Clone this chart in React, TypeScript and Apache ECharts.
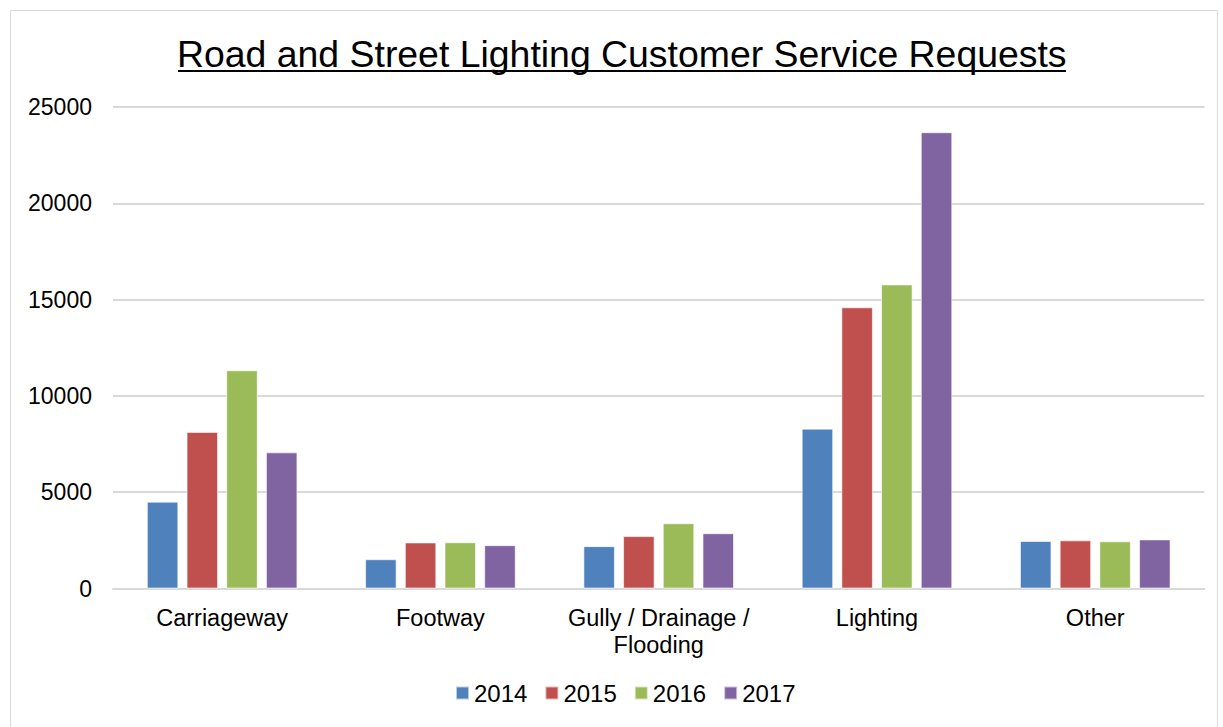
import React, { useEffect, useRef } from "react";
import * as echarts from "echarts";

const categories = ["Carriageway", "Footway", "Gully / Drainage / Flooding", "Lighting", "Other"];
const years = ["2014", "2015", "2016", "2017"];
const values2014 = [4510, 1520, 2200, 8300, 2470];
const values2015 = [8130, 2390, 2720, 14600, 2500];
const values2016 = [11330, 2400, 3390, 15790, 2450];
const values2017 = [7070, 2250, 2870, 23690, 2550];
const colors = ["#4f81bd", "#c0504d", "#9bbb59", "#8064a2"];
const yTicks = [0, 5000, 10000, 15000, 20000, 25000];

export default function App() {
  const ref = useRef<HTMLDivElement>(null);
  useEffect(() => {
    document.body.style.margin = "0";
    const chart = echarts.init(ref.current!, null, { renderer: "svg" });
    const seriesData = [values2014, values2015, values2016, values2017];
    chart.setOption({
      animation: false,
      backgroundColor: "#ffffff",
      textStyle: { fontFamily: "Liberation Sans, Arial, sans-serif" },
      title: {
        text: "Road and Street Lighting Customer Service Requests",
        left: 172,
        top: 30,
        textStyle: { fontSize: 37.4, fontWeight: "normal", color: "#000", fontFamily: "Liberation Sans, Arial, sans-serif" },
      },
      graphic: [
        { type: "rect", shape: { x: 10.5, y: 10.5, width: 1207, height: 730 }, style: { fill: "none", stroke: "#d9d9d9", lineWidth: 1 }, silent: true },
        { type: "line", shape: { x1: 178, y1: 71, x2: 1066, y2: 71 }, style: { stroke: "#000", lineWidth: 2 }, silent: true },
      ],
      legend: {
        bottom: 17,
        left: 450,
        itemWidth: 13,
        itemHeight: 13,
        itemGap: 17,
        icon: "rect",
        textStyle: { fontSize: 24, color: "#000", fontFamily: "Liberation Sans, Arial, sans-serif" },
        data: years,
      },
      grid: { left: 113, right: 18.6, top: 107, bottom: 138.5, containLabel: false },
      xAxis: {
        type: "category",
        data: categories,
        axisLine: { lineStyle: { color: "#d9d9d9", width: 2 } },
        axisTick: { show: false },
        axisLabel: {
          color: "#000",
          fontSize: 23.5,
          lineHeight: 27,
          margin: 16,
          interval: 0,
          formatter: (v: string) => v.replace("Drainage / ", "Drainage /\n"),
        },
      },
      yAxis: {
        type: "value",
        min: yTicks[0],
        max: yTicks[yTicks.length - 1],
        interval: 5000,
        axisLine: { show: false },
        axisTick: { show: false },
        splitLine: { lineStyle: { color: "#d9d9d9", width: 2 } },
        axisLabel: { color: "#000", fontSize: 23, margin: 21, formatter: (v: number) => String(v) },
      },
      series: years.map((y, i) => ({
        name: y,
        type: "bar",
        data: seriesData[i],
        barGap: "26%",
        barCategoryGap: "31%",
        itemStyle: { color: colors[i], borderColor: "rgba(255,255,255,0.6)", borderWidth: 1 },
      })),
    });
    return () => chart.dispose();
  }, []);
  return <div ref={ref} style={{ width: 1223, height: 727 }} />;
}
